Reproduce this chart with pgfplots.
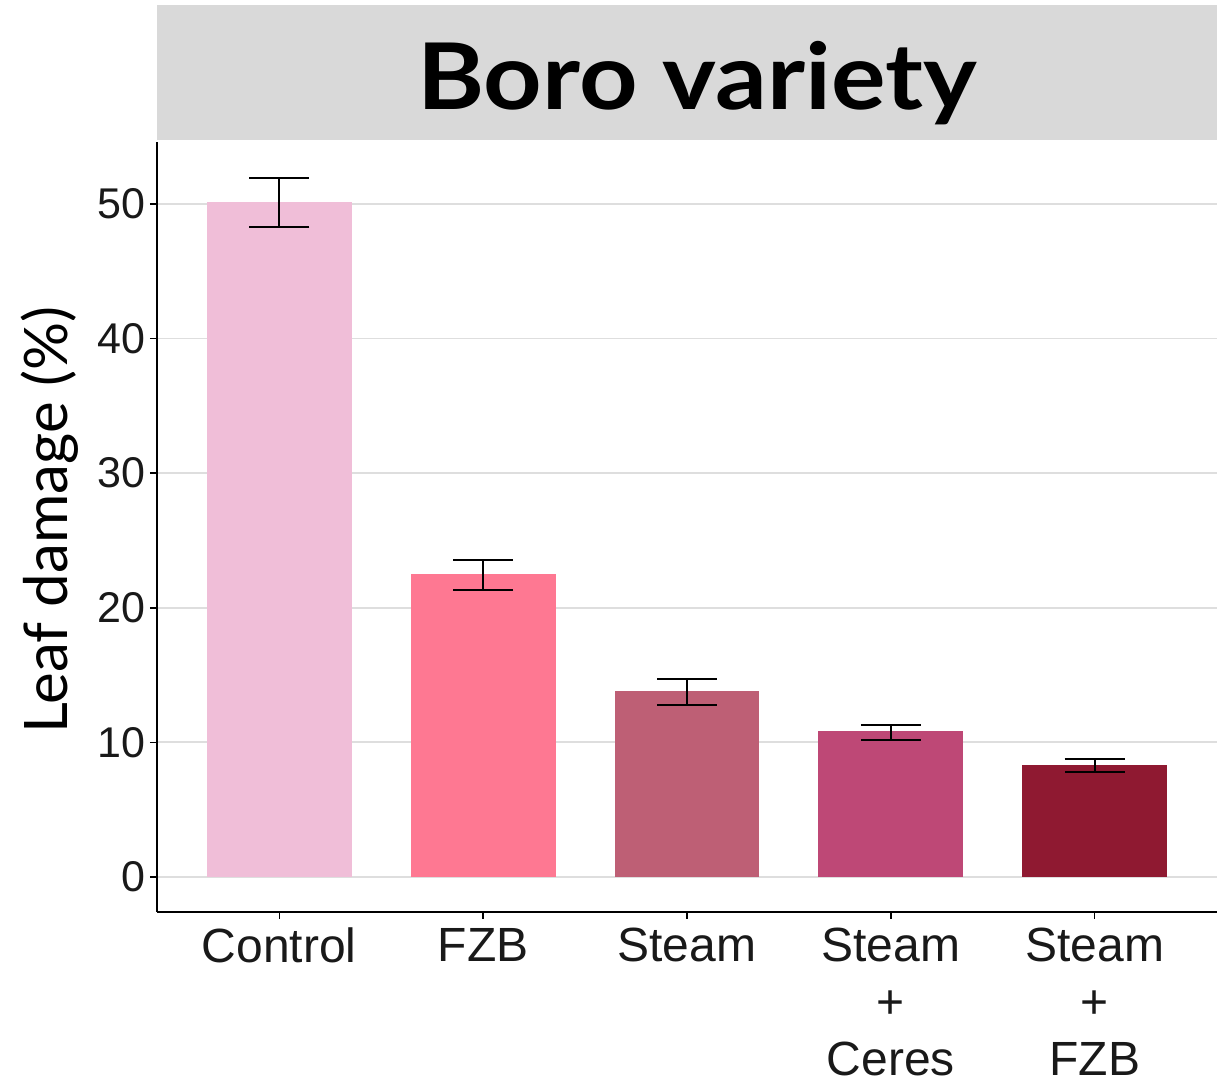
\documentclass[border=0pt]{standalone}
\usepackage{fontspec}
\setmainfont{Liberation Sans}
\newfontfamily\lato{Lato}
\usepackage{pgfplots}
\pgfplotsset{compat=1.18}
\definecolor{cA}{HTML}{F0BED8}
\definecolor{cB}{HTML}{FE7892}
\definecolor{cC}{HTML}{BE5F75}
\definecolor{cD}{HTML}{BE4876}
\definecolor{cE}{HTML}{8F1931}
\definecolor{titlegray}{HTML}{D9D9D9}
\definecolor{gridgray}{HTML}{DEDEDE}
\pgfplotsset{barerr/.style={draw=none, bar shift=0pt,
    error bars/y dir=both, error bars/y explicit,
    error bars/error bar style={line width=1pt, black},
    error bars/error mark options={rotate=90, line width=1pt, black, mark size=15pt}}}
\begin{document}
\begin{tikzpicture}
\useasboundingbox (-78.5pt,-87pt) rectangle (530pt,456pt);
\fill[titlegray] (0,386pt) rectangle (530pt,453.5pt);
\node[anchor=base, inner sep=0pt, font=\lato\bfseries\fontsize{46}{50}\selectfont] at (270pt,401pt) {\scalebox{1.11}[1]{Boro variety}};
\begin{axis}[
  scale only axis, width=530pt, height=385pt,
  xmin=-0.6, xmax=4.6, ymin=-2.6, ymax=54.6,
  axis x line*=bottom, axis y line*=left,
  axis line style={line width=1pt, black},
  ytick={0,10,20,30,40,50},
  xtick={0,1,2,3,4},
  xticklabels={Control, FZB, Steam, {Steam\\+\\Ceres}, {Steam\\+\\FZB}},
  tick align=outside, major tick length=3.5pt,
  tick style={black, line width=0.8pt},
  ymajorgrids, grid style={gridgray, line width=0.9pt},
  xticklabel style={font=\fontsize{24}{28.5}\selectfont, text=black!90, align=center, yshift=-1pt},
  yticklabel style={font=\fontsize{21.5}{24}\selectfont, text=black!90, xshift=1pt},
  /pgf/number format/assume math mode=true,
  ylabel={Leaf damage (\%)},
  ylabel style={font=\lato\fontsize{30}{33}\selectfont, at={(axis description cs:-0.101,0.509)}, anchor=center},
  ybar, bar width=0.71,
]
\addplot[barerr, fill=cA] table[x=x, y=y, y error plus=ep, y error minus=em, row sep=\\] {x y ep em\\ 0 50.16 1.80 1.88\\};
\addplot[barerr, fill=cB] table[x=x, y=y, y error plus=ep, y error minus=em, row sep=\\] {x y ep em\\ 1 22.52 1.06 1.22\\};
\addplot[barerr, fill=cC] table[x=x, y=y, y error plus=ep, y error minus=em, row sep=\\] {x y ep em\\ 2 13.82 0.89 1.01\\};
\addplot[barerr, fill=cD] table[x=x, y=y, y error plus=ep, y error minus=em, row sep=\\] {x y ep em\\ 3 10.81 0.50 0.61\\};
\addplot[barerr, fill=cE] table[x=x, y=y, y error plus=ep, y error minus=em, row sep=\\] {x y ep em\\ 4 8.35 0.45 0.57\\};
\end{axis}
\end{tikzpicture}
\end{document}
